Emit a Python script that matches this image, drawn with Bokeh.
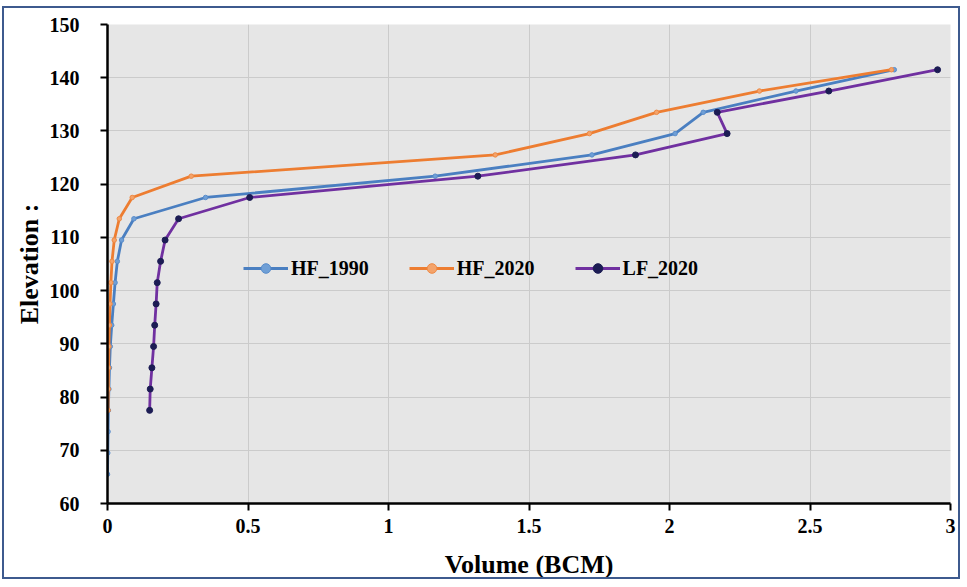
from bokeh.plotting import figure
from bokeh.models import Legend, LegendItem, FixedTicker
from bokeh.embed import file_html
from bokeh.resources import INLINE

# ---- data ----
hf1990_vol = [0.0, 0.001, 0.002, 0.003, 0.005, 0.007, 0.010, 0.015, 0.021, 0.027,
              0.035, 0.050, 0.094, 0.349, 1.166, 1.724, 2.020, 2.120, 2.450, 2.800]
hf1990_elev = [65.5, 69.5, 73.5, 77.5, 81.5, 85.5, 89.5, 93.5, 97.5, 101.5,
               105.5, 109.5, 113.5, 117.5, 121.5, 125.5, 129.5, 133.5, 137.5, 141.5]

hf2020_vol = [0.002, 0.003, 0.004, 0.005, 0.007, 0.009, 0.012, 0.016, 0.024,
              0.042, 0.088, 0.298, 1.380, 1.715, 1.954, 2.320, 2.790]
hf2020_elev = [77.5, 81.5, 85.5, 89.5, 93.5, 97.5, 101.5, 105.5, 109.5,
               113.5, 117.5, 121.5, 125.5, 129.5, 133.5, 137.5, 141.5]

lf2020_vol = [0.150, 0.152, 0.158, 0.164, 0.168, 0.173, 0.177, 0.189, 0.205,
              0.253, 0.506, 1.318, 1.879, 2.205, 2.170, 2.567, 2.954]
lf2020_elev = [77.5, 81.5, 85.5, 89.5, 93.5, 97.5, 101.5, 105.5, 109.5,
               113.5, 117.5, 121.5, 125.5, 129.5, 133.5, 137.5, 141.5]

x_ticks = [0, 0.5, 1, 1.5, 2, 2.5, 3]
x_tick_labels = ["0", "0.5", "1", "1.5", "2", "2.5", "3"]
y_ticks = [60, 70, 80, 90, 100, 110, 120, 130, 140, 150]

series_names = ["HF_1990", "HF_2020", "LF_2020"]

FONT = "Liberation Serif"

p = figure(width=958, height=573, output_backend="svg", toolbar_location=None,
           x_range=(0, 3), y_range=(60, 150),
           min_border_left=103, min_border_right=12, min_border_top=16, min_border_bottom=76,
           background_fill_color="#e6e6e6", border_fill_color="white")
p.styles = {"border": "2px solid #3d5a8e", "margin": "6px 0px 0px 2px"}
p.outline_line_color = None

p.xaxis.ticker = FixedTicker(ticks=x_ticks)
p.xaxis.major_label_overrides = {t: l for t, l in zip(x_ticks, x_tick_labels)}
p.yaxis.ticker = FixedTicker(ticks=y_ticks)

for ax in (p.xaxis, p.yaxis):
    ax.axis_line_color = "black"
    ax.axis_line_width = 2.5
    ax.major_tick_line_color = "black"
    ax.major_tick_line_width = 2
    ax.major_tick_in = 0
    ax.major_tick_out = 7
    ax.minor_tick_line_color = None
    ax.major_label_text_font = FONT
    ax.major_label_text_font_style = "bold"
    ax.major_label_text_font_size = "20px"
    ax.major_label_text_color = "black"
    ax.axis_label_text_font = FONT
    ax.axis_label_text_font_style = "bold"
    ax.axis_label_text_font_size = "26px"
    ax.axis_label_text_color = "black"

p.xaxis.axis_label = "Volume (BCM)"
p.yaxis.axis_label = "Elevation :"
p.xaxis.major_label_standoff = 8
p.yaxis.major_label_standoff = 21
p.xaxis.axis_label_standoff = 14
p.yaxis.axis_label_standoff = 3

p.xgrid.ticker = FixedTicker(ticks=x_ticks)
p.ygrid.ticker = FixedTicker(ticks=y_ticks)
p.grid.grid_line_color = "#cbcbcb"
p.grid.grid_line_width = 1

r1 = p.line(hf1990_vol, hf1990_elev, line_color="#4a7fc1", line_width=2.8)
m1 = p.scatter(hf1990_vol, hf1990_elev, marker="circle", size=4.5,
               fill_color="#6f9fd6", line_color="#5a8dcb")
r2 = p.line(hf2020_vol, hf2020_elev, line_color="#ed7d31", line_width=2.8)
m2 = p.scatter(hf2020_vol, hf2020_elev, marker="circle", size=4.5,
               fill_color="#f4a36a", line_color="#ee8a45")
r3 = p.line(lf2020_vol, lf2020_elev, line_color="#7030a0", line_width=2.8)
m3 = p.scatter(lf2020_vol, lf2020_elev, marker="circle", size=6,
               fill_color="#1c1c54", line_color="#1c1c54")

legend = Legend(items=[LegendItem(label=series_names[0], renderers=[r1, m1]),
                       LegendItem(label=series_names[1], renderers=[r2, m2]),
                       LegendItem(label=series_names[2], renderers=[r3, m3])],
                orientation="horizontal", location=(136, 223),
                background_fill_alpha=0, border_line_color=None,
                padding=0, margin=0, spacing=40, label_standoff=3,
                glyph_width=45, glyph_height=24, label_height=24,
                label_text_font=FONT, label_text_font_style="bold",
                label_text_font_size="20px", label_text_color="black")
p.add_layout(legend, "center")

open("out.html", "w").write(file_html(p, INLINE))
